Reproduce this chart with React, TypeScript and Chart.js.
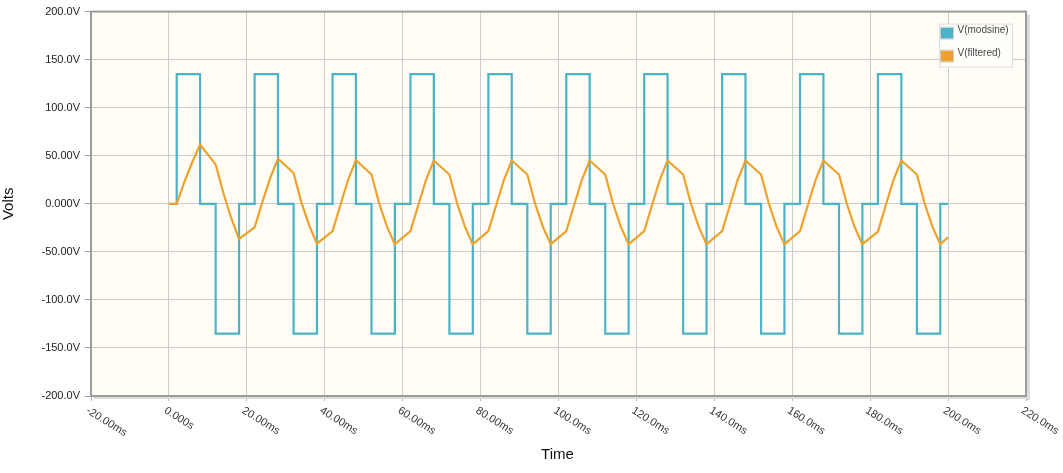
import { useEffect, useRef } from 'react';
import { Chart, registerables } from 'chart.js';

Chart.register(...registerables);

// ---- data ----
const seriesNames = ['V(modsine)', 'V(filtered)'];

const modsineTime = [
  0, 2, 2, 8, 8, 12, 12, 18, 18,
  22, 22, 28, 28, 32, 32, 38, 38,
  42, 42, 48, 48, 52, 52, 58, 58,
  62, 62, 68, 68, 72, 72, 78, 78,
  82, 82, 88, 88, 92, 92, 98, 98,
  102, 102, 108, 108, 112, 112, 118, 118,
  122, 122, 128, 128, 132, 132, 138, 138,
  142, 142, 148, 148, 152, 152, 158, 158,
  162, 162, 168, 168, 172, 172, 178, 178,
  182, 182, 188, 188, 192, 192, 198, 198,
  200,
];
const modsineVolts = [
  0, 0, 135, 135, 0, 0, -135, -135, 0,
  0, 135, 135, 0, 0, -135, -135, 0,
  0, 135, 135, 0, 0, -135, -135, 0,
  0, 135, 135, 0, 0, -135, -135, 0,
  0, 135, 135, 0, 0, -135, -135, 0,
  0, 135, 135, 0, 0, -135, -135, 0,
  0, 135, 135, 0, 0, -135, -135, 0,
  0, 135, 135, 0, 0, -135, -135, 0,
  0, 135, 135, 0, 0, -135, -135, 0,
  0, 135, 135, 0, 0, -135, -135, 0,
  0,
];

const filteredTime = [
  0, 2, 4, 6, 8, 12, 14, 16, 18,
  22, 24, 26, 28, 32, 34, 36, 38,
  42, 44, 46, 48, 52, 54, 56, 58,
  62, 64, 66, 68, 72, 74, 76, 78,
  82, 84, 86, 88, 92, 94, 96, 98,
  102, 104, 106, 108, 112, 114, 116, 118,
  122, 124, 126, 128, 132, 134, 136, 138,
  142, 144, 146, 148, 152, 154, 156, 158,
  162, 164, 166, 168, 172, 174, 176, 178,
  182, 184, 186, 188, 192, 194, 196, 198,
  200,
];
const filteredVolts = [
  0, 0, 23, 43.5, 61.5, 41, 11, -15, -36.5,
  -24.5, 2, 27, 47, 32, 1.5, -22.5, -41.5,
  -28.5, -1.5, 25, 45.5, 30.5, 0, -24, -42,
  -28.5, -1.5, 25, 45, 30.5, 0, -24, -42,
  -28.5, -1.5, 25, 45, 30.5, 0, -24, -42,
  -28.5, -1.5, 25, 45, 30.5, 0, -24, -42,
  -28.5, -1.5, 25, 45, 30.5, 0, -24, -42,
  -28.5, -1.5, 25, 45, 30.5, 0, -24, -42,
  -28.5, -1.5, 25, 45, 30.5, 0, -24, -42,
  -29, -1.5, 25, 45, 30.5, 0, -24, -42,
  -35,
];

const xTickValues = [-20, 0, 20, 40, 60, 80, 100, 120, 140, 160, 180, 200, 220];
const xTickLabels = [
  '-20.00ms', '0.000s', '20.00ms', '40.00ms', '60.00ms', '80.00ms', '100.0ms',
  '120.0ms', '140.0ms', '160.0ms', '180.0ms', '200.0ms', '220.0ms',
];
const yTickValues = [200, 150, 100, 50, 0, -50, -100, -150, -200];
const yTickLabels = [
  '200.0V', '150.0V', '100.0V', '50.00V', '0.000V', '-50.00V', '-100.0V', '-150.0V', '-200.0V',
];
const xTitle = 'Time';
const yTitle = 'Volts';

const BLUE = '#4bb3c7';
const ORANGE = '#efa22b';
const FONT = '"Liberation Sans", Arial, sans-serif';

export default function App() {
  const canvasRef = useRef<HTMLCanvasElement | null>(null);

  useEffect(() => {
    document.body.style.margin = '0';
    const canvas = canvasRef.current;
    if (!canvas) return;

    const decorPlugin = {
      id: 'decor',
      beforeDraw(chart: any) {
        const { ctx, chartArea: a } = chart;
        ctx.save();
        ctx.fillStyle = '#fffdf5';
        ctx.fillRect(a.left, a.top, a.right - a.left, a.bottom - a.top);
        ctx.restore();
      },
      afterDraw(chart: any) {
        const { ctx, chartArea: a } = chart;
        const xs = chart.scales.x;
        ctx.save();
        // shadow
        ctx.fillStyle = '#dcdcdc';
        ctx.fillRect(a.right + 1, a.top + 3, 3, a.bottom - a.top + 1);
        ctx.fillRect(a.left + 3, a.bottom + 1, a.right - a.left + 1, 2);
        // frame
        ctx.strokeStyle = '#9c9c9c';
        ctx.lineWidth = 2;
        ctx.strokeRect(a.left, a.top, a.right - a.left, a.bottom - a.top);

        // x tick labels (rotated clockwise)
        ctx.font = '11px ' + FONT;
        ctx.fillStyle = '#333';
        ctx.textAlign = 'left';
        ctx.textBaseline = 'top';
        xTickValues.forEach((v, i) => {
          const px = xs.getPixelForValue(v);
          ctx.save();
          ctx.translate(px - 1, a.bottom + 9);
          ctx.rotate((32 * Math.PI) / 180);
          ctx.fillText(xTickLabels[i], 0, 0);
          ctx.restore();
        });

        // axis titles
        ctx.font = '15px ' + FONT;
        ctx.fillStyle = '#111';
        ctx.textAlign = 'center';
        ctx.textBaseline = 'alphabetic';
        ctx.fillText(xTitle, (a.left + a.right) / 2 - 1, 459);
        ctx.save();
        ctx.translate(13, (a.top + a.bottom) / 2);
        ctx.rotate(-Math.PI / 2);
        ctx.fillText(yTitle, 0, 0);
        ctx.restore();

        // legend
        const bx = a.right - 86.5;
        const by = a.top + 12.5;
        ctx.fillStyle = '#fefefb';
        ctx.fillRect(bx, by, 73, 43);
        ctx.strokeStyle = '#dedede';
        ctx.lineWidth = 1;
        ctx.strokeRect(bx, by, 73, 43);
        const colors = [BLUE, ORANGE];
        ctx.font = '10px ' + FONT;
        ctx.textAlign = 'left';
        ctx.textBaseline = 'alphabetic';
        seriesNames.forEach((name, i) => {
          const sy = by + 3.5 + i * 23;
          ctx.fillStyle = colors[i];
          ctx.fillRect(bx + 1.5, sy, 12, 11);
          ctx.strokeStyle = '#d0d0d0';
          ctx.strokeRect(bx + 1, sy - 0.5, 13, 12);
          ctx.fillStyle = '#444';
          ctx.fillText(name, bx + 18, by + 8.5 + i * 23);
        });
        ctx.restore();
      },
    };

    const chart = new Chart(canvas, {
      type: 'line',
      data: {
        datasets: [
          {
            label: seriesNames[0],
            data: modsineTime.map((t, i) => ({ x: t, y: modsineVolts[i] })),
            borderColor: BLUE,
            backgroundColor: BLUE,
            borderWidth: 2.2,
            pointRadius: 0,
            tension: 0,
            order: 2,
          },
          {
            label: seriesNames[1],
            data: filteredTime.map((t, i) => ({ x: t, y: filteredVolts[i] })),
            borderColor: ORANGE,
            backgroundColor: ORANGE,
            borderWidth: 2.2,
            pointRadius: 0,
            tension: 0,
            order: 1,
          },
        ],
      },
      plugins: [decorPlugin],
      options: {
        animation: false,
        responsive: false,
        devicePixelRatio: 1,
        layout: { padding: { top: 10, right: 37, left: 0, bottom: 0 } },
        plugins: {
          legend: { display: false },
          tooltip: { enabled: false },
        },
        scales: {
          x: {
            type: 'linear',
            min: -20,
            max: 220,
            afterBuildTicks: (s: any) => {
              s.ticks = xTickValues.map((v) => ({ value: v }));
            },
            afterFit: (s: any) => {
              s.height = 77;
            },
            ticks: { display: false },
            grid: { color: '#cccccc', lineWidth: 1, tickLength: 5, tickColor: '#b5b5b5' },
            border: { display: false },
          },
          y: {
            type: 'linear',
            min: -200,
            max: 200,
            afterBuildTicks: (s: any) => {
              s.ticks = yTickValues.map((v) => ({ value: v }));
            },
            afterFit: (s: any) => {
              s.width = 91;
            },
            ticks: {
              padding: 5,
              color: '#222',
              font: { family: FONT, size: 11 },
              callback: (v: any) => {
                const i = yTickValues.indexOf(Number(v));
                return i >= 0 ? yTickLabels[i] : '';
              },
            },
            grid: { color: '#cccccc', lineWidth: 1, tickLength: 6, tickColor: '#9c9c9c' },
            border: { display: false },
          },
        },
      },
    } as any);

    return () => chart.destroy();
  }, []);

  return (
    <div style={{ width: 1063, height: 473, position: 'relative' }}>
      <canvas ref={canvasRef} width={1063} height={473} style={{ display: 'block' }} />
    </div>
  );
}
